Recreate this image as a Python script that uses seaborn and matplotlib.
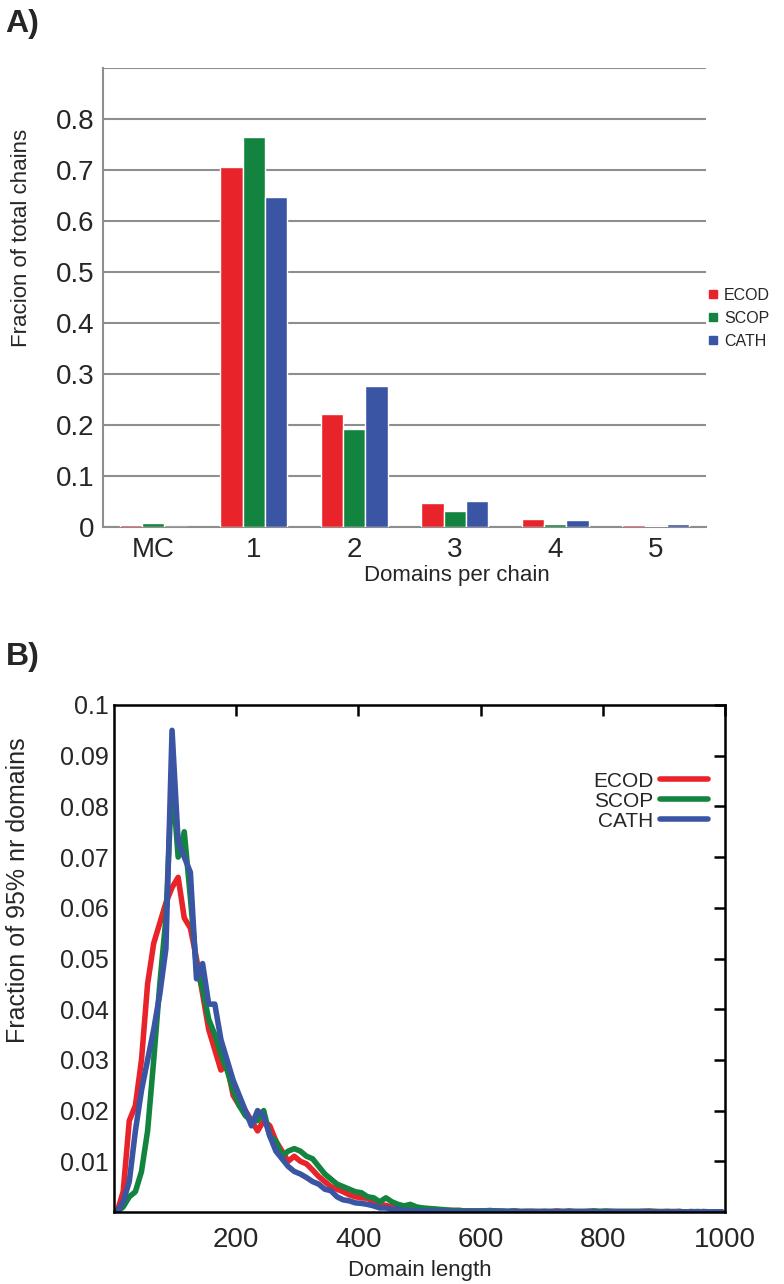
import numpy as np
import pandas as pd
import matplotlib
matplotlib.use('Agg')
import matplotlib.pyplot as plt
from matplotlib.lines import Line2D
import seaborn as sns

# ---- Panel A: domains per chain ----
categories = ['MC', '1', '2', '3', '4', '5']
ecod_chains = [0.003, 0.705, 0.222, 0.047, 0.016, 0.004]
scop_chains = [0.007, 0.765, 0.192, 0.031, 0.006, 0.002]
cath_chains = [0.000, 0.648, 0.276, 0.051, 0.013, 0.006]

# ---- Panel B: domain length distribution (bin centres, 10 residue bins) ----
domain_length = list(range(5, 1000, 10))
ecod_len = [
    0.000, 0.004, 0.018, 0.021, 0.030, 0.045, 0.053, 0.057, 0.061, 0.064,
    0.066, 0.058, 0.056, 0.050, 0.043, 0.036, 0.032, 0.028, 0.029, 0.023,
    0.021, 0.020, 0.018, 0.016, 0.018, 0.017, 0.014, 0.012, 0.010, 0.011,
    0.010, 0.0095, 0.0083, 0.007, 0.006, 0.005, 0.0045, 0.004, 0.0034, 0.003,
    0.0028, 0.0027, 0.002, 0.0015, 0.0013, 0.001, 0.0009, 0.0008, 0.0007, 0.0006,
    0.0006, 0.0005, 0.0005, 0.0004, 0.0003, 0.0003, 0.0003, 0.0002, 0.0002, 0.0002,
    0.0002, 0.0001, 0.0002, 0.0001, 0.0001, 0.0002, 0.0001, 0.0001, 0.0001, 0.0001,
    0.0001, 0.0001, 0.0002, 0.0001, 0.0001, 0.0001, 0.0001, 0.0001, 0.0002, 0.0001,
    0.0001, 0.0001, 0.0001, 0.0001, 0.0001, 0.0001, 0.0001, 0.0002, 0.0001, 0.0001,
    0.0001, 0.0001, 0.0001, 0.0000, 0.0001, 0.0000, 0.0001, 0.0000, 0.0000, 0.0000,
]
scop_len = [
    0.000, 0.001, 0.003, 0.004, 0.008, 0.016, 0.030, 0.045, 0.058, 0.086,
    0.070, 0.075, 0.062, 0.048, 0.044, 0.038, 0.035, 0.031, 0.028, 0.024,
    0.021, 0.019, 0.018, 0.018, 0.020, 0.015, 0.014, 0.011, 0.012, 0.0125,
    0.012, 0.011, 0.0105, 0.009, 0.0075, 0.0065, 0.0055, 0.005, 0.0045, 0.004,
    0.0038, 0.003, 0.0028, 0.002, 0.0028, 0.002, 0.0015, 0.0012, 0.0015, 0.001,
    0.0008, 0.0007, 0.0006, 0.0005, 0.0004, 0.0003, 0.0003, 0.0002, 0.0002, 0.0002,
    0.0002, 0.0003, 0.0002, 0.0002, 0.0001, 0.0002, 0.0001, 0.0001, 0.0001, 0.0001,
    0.0001, 0.0001, 0.0001, 0.0001, 0.0002, 0.0001, 0.0001, 0.0001, 0.0002, 0.0001,
    0.0002, 0.0001, 0.0001, 0.0001, 0.0001, 0.0001, 0.0001, 0.0001, 0.0001, 0.0000,
    0.0001, 0.0000, 0.0001, 0.0000, 0.0000, 0.0001, 0.0000, 0.0000, 0.0000, 0.0000,
]
cath_len = [
    0.000, 0.002, 0.006, 0.016, 0.024, 0.030, 0.036, 0.043, 0.052, 0.095,
    0.073, 0.070, 0.067, 0.046, 0.049, 0.041, 0.041, 0.034, 0.030, 0.026,
    0.023, 0.020, 0.017, 0.020, 0.019, 0.015, 0.012, 0.0105, 0.009, 0.008,
    0.0075, 0.0068, 0.006, 0.0055, 0.0045, 0.0042, 0.003, 0.0024, 0.0022, 0.0018,
    0.0017, 0.0015, 0.0012, 0.0008, 0.0008, 0.0005, 0.0006, 0.0003, 0.0003, 0.0002,
    0.0002, 0.0002, 0.0002, 0.0001, 0.0002, 0.0001, 0.0001, 0.0001, 0.0001, 0.0001,
    0.0001, 0.0001, 0.0001, 0.0001, 0.0001, 0.0001, 0.0000, 0.0001, 0.0001, 0.0000,
    0.0001, 0.0000, 0.0001, 0.0000, 0.0001, 0.0000, 0.0000, 0.0001, 0.0000, 0.0000,
    0.0000, 0.0001, 0.0000, 0.0000, 0.0000, 0.0000, 0.0001, 0.0000, 0.0000, 0.0000,
    0.0000, 0.0000, 0.0000, 0.0000, 0.0000, 0.0000, 0.0000, 0.0000, 0.0000, 0.0000,
]

sources = ['ECOD', 'SCOP', 'CATH']
colors = {'ECOD': '#E8232A', 'SCOP': '#13843F', 'CATH': '#3A55A4'}

sns.set_style('white')
plt.rcParams['font.family'] = ['Liberation Sans', 'DejaVu Sans']

fig = plt.figure(figsize=(7.84, 12.84), dpi=100)

# ---------------- Panel A ----------------
df_a = pd.DataFrame({
    'cat': categories * 3,
    'source': ['ECOD'] * 6 + ['SCOP'] * 6 + ['CATH'] * 6,
    'frac': ecod_chains + scop_chains + cath_chains,
})
ax1 = fig.add_axes([103 / 784, 1 - 527 / 1284, 603 / 784, 459 / 1284])
sns.barplot(data=df_a, x='cat', y='frac', hue='source', order=categories,
            hue_order=sources, palette=colors, width=0.67, gap=0,
            saturation=1, ax=ax1, legend=False, zorder=3)
ax1.set_xlim(-0.5, 5.5)
ax1.set_ylim(0, 0.9)
ax1.set_yticks(np.arange(0, 0.95, 0.1))
ax1.set_yticklabels(['0', '0.1', '0.2', '0.3', '0.4', '0.5', '0.6', '0.7', '0.8', ''])
ax1.yaxis.grid(True, color='#8e8e8e', linewidth=1.5)
ax1.xaxis.grid(False)
for s in ['top', 'right']:
    ax1.spines[s].set_visible(False)
for s in ['left', 'bottom']:
    ax1.spines[s].set_color('#8e8e8e')
    ax1.spines[s].set_linewidth(1.5)
ax1.set_xticks(np.arange(-0.5, 6.0, 1.0), minor=True)
ax1.tick_params(axis='x', which='major', length=0, labelsize=20, pad=7)
ax1.tick_params(axis='x', which='minor', length=5, color='#8e8e8e', width=1.2, direction='out')
ax1.tick_params(axis='y', length=4, color='#8e8e8e', width=1.2, direction='out', labelsize=20, pad=2)
ax1.set_xlabel('Domains per chain', fontsize=16)
ax1.xaxis.set_label_coords(0.587, -0.082)
ax1.set_ylabel('Fracion of total chains', fontsize=16)
ax1.yaxis.set_label_coords(-0.118, 0.63)

handles_a = [Line2D([0], [0], marker='s', linestyle='', color=colors[s], markersize=6) for s in sources]
ax1.legend(handles_a, sources, loc='center left', bbox_to_anchor=(0.99, 0.455),
           frameon=False, fontsize=11.5, handletextpad=0.3, labelspacing=0.5,
           handlelength=0.8, borderaxespad=0)

fig.text(0.007, 0.993, 'A)', fontsize=23, fontweight='bold', va='top')

# ---------------- Panel B ----------------
df_b = pd.DataFrame({
    'length': domain_length * 3,
    'source': ['ECOD'] * 100 + ['SCOP'] * 100 + ['CATH'] * 100,
    'frac': ecod_len + scop_len + cath_len,
})
ax2 = fig.add_axes([114 / 784, 1 - 1212 / 1284, 611 / 784, 507 / 1284])
ax2.patch.set_alpha(0)
sns.lineplot(data=df_b, x='length', y='frac', hue='source', hue_order=sources,
             palette=colors, linewidth=4, ax=ax2, legend=False)
ax2.set_xlim(0, 1000)
ax2.set_ylim(0, 0.1)
ax2.set_xticks([200, 400, 600, 800, 1000])
ax2.set_yticks([0.01, 0.02, 0.03, 0.04, 0.05, 0.06, 0.07, 0.08, 0.09, 0.1])
ax2.set_yticklabels(['0.01', '0.02', '0.03', '0.04', '0.05', '0.06', '0.07', '0.08', '0.09', '0.1'])
for s in ax2.spines.values():
    s.set_color('black')
    s.set_linewidth(1.8)
ax2.tick_params(axis='both', direction='in', length=8, width=1.8, top=True, right=True,
                labelsize=18, color='black')
ax2.tick_params(axis='x', labelsize=20, pad=11)
ax2.set_xlabel('Domain length', fontsize=16, labelpad=5)
ax2.set_ylabel('Fraction of 95% nr domains', fontsize=18)
ax2.yaxis.set_label_coords(-0.137, 0.635)

handles_b = [Line2D([0], [0], color=colors[s], linewidth=4) for s in sources]
ax2.legend(handles_b, sources, loc='upper right', bbox_to_anchor=(0.985, 0.885),
           frameon=False, fontsize=15, markerfirst=False, handlelength=2.3,
           handletextpad=0.3, labelspacing=0.05, borderaxespad=0)

fig.text(0.007, 0.5, 'B)', fontsize=23, fontweight='bold', va='top')

fig.savefig('out.png', dpi=100)
